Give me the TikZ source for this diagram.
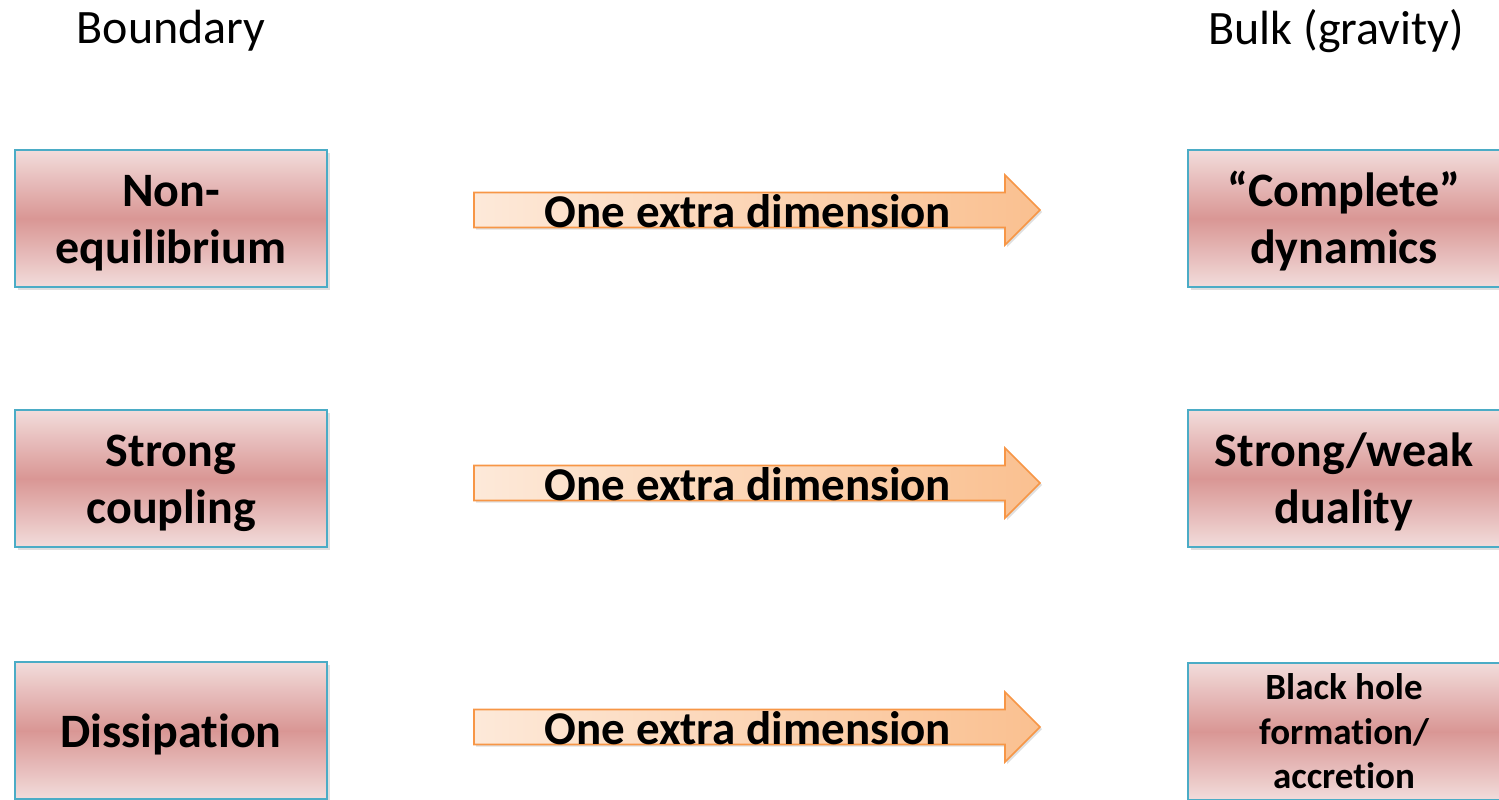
\documentclass[tikz,border=0pt]{standalone}
\usepackage{fontspec}
\setmainfont{Carlito}[Ligatures=NoCommon]
\usetikzlibrary{shadows}
\definecolor{boxedge}{HTML}{4BACC6}
\definecolor{boxlight}{HTML}{F2DCDB}
\definecolor{boxdark}{HTML}{D99694}
\definecolor{arredge}{HTML}{F79646}
\definecolor{arrlight}{HTML}{FDE9D9}
\definecolor{arrdark}{HTML}{FAC090}
\newcommand{\topstrut}{\rule{0pt}{20.5pt}}
\tikzset{
	sidebox/.style={draw=boxedge, line width=1pt, top color=boxlight, bottom color=boxlight, middle color=boxdark,
		minimum width=156pt, minimum height=68.5pt, align=center, inner sep=0pt,
		font=\bfseries\fontsize{24}{28.5}\selectfont,
		drop shadow={opacity=.25, shadow xshift=1.5pt, shadow yshift=-1.5pt}},
	smallbox/.style={sidebox, font=\bfseries\fontsize{18.5}{22.2}\selectfont},
	bigarrow/.style={draw=arredge, line width=.8pt, left color=arrlight, right color=arrdark,
		drop shadow={opacity=.25, shadow xshift=1pt, shadow yshift=-1pt}},
	arrtext/.style={font=\bfseries\fontsize{23.5}{28}\selectfont, inner sep=0pt},
	head/.style={font=\fontsize{24}{28}\selectfont}
}
\begin{document}
\begin{tikzpicture}[x=.5pt, y=-.5pt]
	\useasboundingbox (0,0) rectangle (1499,799);
	% titres
	\node[head] (bnd) at (171,31) {Boundary};
	\node[head] (blk) at (1336,31) {Bulk (gravity)};
	% boites de gauche
	\node[sidebox] (lb1) at (171,218.5) {\topstrut Non-\\equilibrium};
	\node[sidebox] (lb2) at (171,478.5) {\topstrut Strong\\coupling};
	\node[sidebox] (lb3) at (171,730.5) {\topstrut Dissipation};
	% boites de droite
	\node[sidebox] (rb1) at (1344,218.5) {\topstrut``Complete''\\dynamics};
	\node[sidebox] (rb2) at (1344,478.5) {\topstrut Strong/weak\\duality};
	\node[smallbox] (rb3) at (1344,731.5) {Black hole\\formation/\\accretion};
	% fleches
	\foreach \n/\y in {1/210,2/483,3/727}{
		\filldraw[bigarrow] (474,\y-17.5) -- (1005,\y-17.5) -- (1005,\y-35) -- (1040,\y)
			-- (1005,\y+35) -- (1005,\y+17.5) -- (474,\y+17.5) -- cycle;
		\node[arrtext] (ext\n) at (748,\y+1) {One extra dimension};
	}
\end{tikzpicture}
\end{document}
